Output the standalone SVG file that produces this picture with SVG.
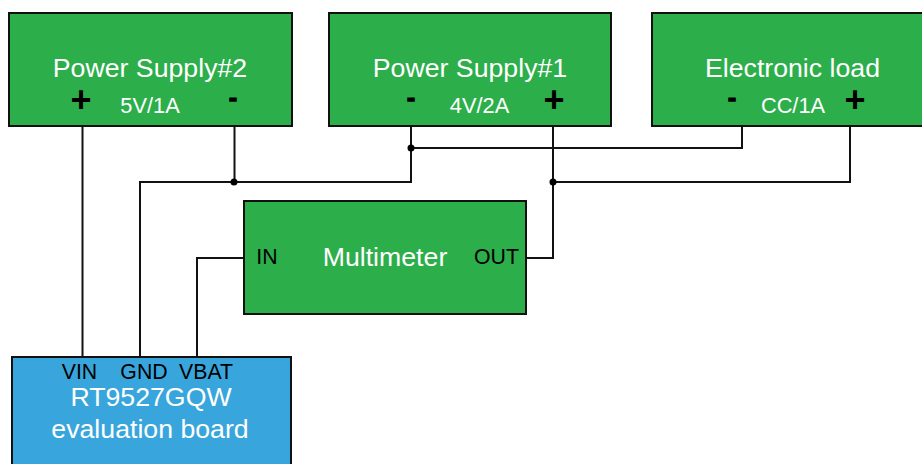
<svg xmlns="http://www.w3.org/2000/svg" width="922" height="464" viewBox="0 0 922 464">
<style>
.g{fill:#2cae4a;stroke:#111;stroke-width:2}
.b{fill:#38a6dc;stroke:#111;stroke-width:2}
text{font-family:"Liberation Sans",Arial,sans-serif;text-anchor:middle}
.t{font-size:26.700px;fill:#fff}
.s{font-size:21.800px;fill:#fff}
.k{font-size:21.300px;fill:#000}
.p{font-size:36px;font-weight:bold;fill:#000}
.m{font-size:24px;font-weight:bold;fill:#000;stroke:#000;stroke-width:1.500px}
.w{fill:none;stroke:#111;stroke-width:2}
.d{fill:#000}
</style>
<rect width="922" height="464" fill="#fff"/>
<g id="connectors">
<path class="w" d="M82.500 126V358M234.500 126V182M140 358V182H411V126M411 148H742V126M553 126V258H526M553 182H850V126M244 258H197V358"/>
<circle class="d" cx="234" cy="182" r="3.500"/>
<circle class="d" cx="411" cy="148" r="3.500"/>
<circle class="d" cx="553" cy="182" r="3.500"/>
</g>
<g id="power-supply-2">
<rect class="g" x="9" y="13" width="283" height="113"/>
<text class="t" x="150" y="77">Power Supply#2</text>
<text class="p" x="81" y="112">+</text>
<text class="s" x="150" y="113">5V/1A</text>
<text class="m" x="233" y="105.500">-</text>
</g>
<g id="power-supply-1">
<rect class="g" x="329" y="13" width="282" height="113"/>
<text class="t" x="470" y="77">Power Supply#1</text>
<text class="m" x="411" y="105.500">-</text>
<text class="s" x="479.500" y="113">4V/2A</text>
<text class="p" x="554" y="112">+</text>
</g>
<g id="electronic-load">
<rect class="g" x="652" y="13" width="284" height="113"/>
<text class="t" x="792.500" y="77">Electronic load</text>
<text class="m" x="732" y="105.500">-</text>
<text class="s" x="793" y="113">CC/1A</text>
<text class="p" x="855" y="112">+</text>
</g>
<g id="multimeter">
<rect class="g" x="244" y="201" width="282" height="113"/>
<text class="t" x="385" y="266">Multimeter</text>
<text class="k" x="267" y="264">IN</text>
<text class="k" x="496.500" y="264">OUT</text>
</g>
<g id="evaluation-board">
<rect class="b" x="12" y="357" width="279" height="120"/>
<text class="k" x="79.500" y="379">VIN</text>
<text class="k" x="144" y="379">GND</text>
<text class="k" x="206" y="379">VBAT</text>
<text class="t" x="151" y="406">RT9527GQW</text>
<text class="t" x="150" y="438">evaluation board</text>
</g>
</svg>
